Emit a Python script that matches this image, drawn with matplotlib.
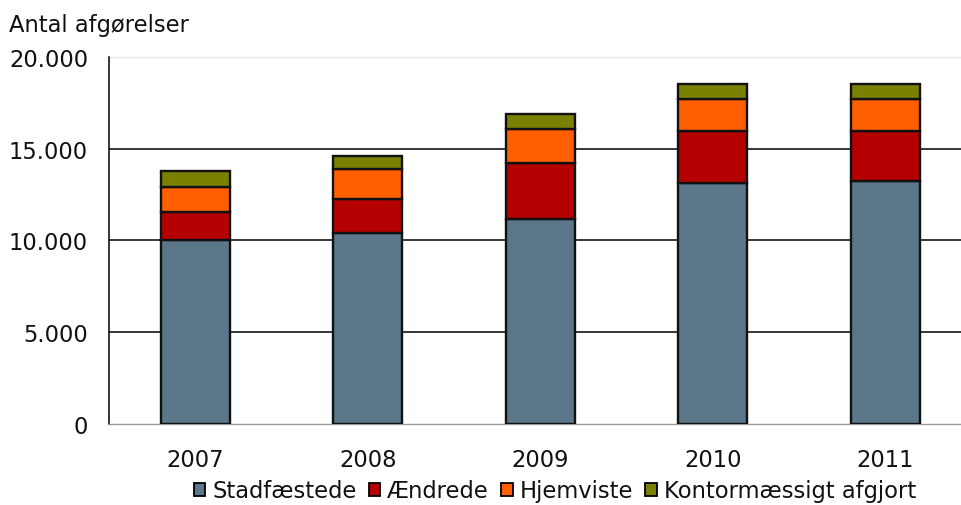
import matplotlib
matplotlib.use("Agg")
import matplotlib.pyplot as plt
from matplotlib.ticker import FuncFormatter
import numpy as np

years = ["2007", "2008", "2009", "2010", "2011"]
stadfaestede = [10010, 10430, 11190, 13150, 13240]
aendrede = [1530, 1830, 3050, 2830, 2740]
hjemviste = [1390, 1650, 1840, 1750, 1750]
kontor = [870, 680, 810, 800, 800]
series_names = ["Stadfæstede", "Ændrede", "Hjemviste", "Kontormæssigt afgjort"]
colors = ["#5B7789", "#B50000", "#FF5F00", "#7A8000"]
yticks = [0, 5000, 10000, 15000, 20000]

plt.rcParams["font.family"] = ["DejaVu Sans"]
FS = 16.3
fig = plt.figure(figsize=(9.62, 5.06), dpi=100)
ax = fig.add_axes([109/962, 1-425/506, 862.75/962, 367/506])

x = np.arange(len(years))
bottom = np.zeros(len(years))
for vals, c, name in zip([stadfaestede, aendrede, hjemviste, kontor], colors, series_names):
    ax.bar(x, vals, 0.4, bottom=bottom, color=c, edgecolor="#111111", linewidth=1.7,
           label=name, zorder=3)
    bottom += np.array(vals)

ax.set_xlim(-0.5, 4.5)
ax.set_ylim(0, 20000)
ax.set_yticks(yticks)
ax.yaxis.set_major_formatter(FuncFormatter(lambda v, p: f"{int(v):,}".replace(",", ".")))
ax.set_xticks(x)
ax.set_xticklabels(years)
ax.tick_params(axis="both", length=0, labelsize=FS, colors="#111111")
ax.tick_params(axis="y", pad=15)
ax.tick_params(axis="x", pad=17)

for v in yticks[1:-1]:
    ax.axhline(v, color="black", linewidth=1.1, zorder=1)
ax.axhline(20000, color="#e6e6e6", linewidth=1.0, zorder=1, clip_on=False)

for s in ["top", "right"]:
    ax.spines[s].set_visible(False)
ax.spines["left"].set_color("black")
ax.spines["left"].set_linewidth(1.1)
ax.spines["bottom"].set_color("#9a9a9a")
ax.spines["bottom"].set_linewidth(1.0)

fig.text(9/962, 1-32/506, "Antal afgørelser", fontsize=FS, ha="left", va="baseline",
         color="#111111")

leg_handles = [plt.Rectangle((0, 0), 1, 1, facecolor=c, edgecolor="black", linewidth=1.3) for c in colors]
fig.legend(leg_handles, series_names, loc="center", bbox_to_anchor=(555/962, 1-492/506),
           ncol=4, frameon=False, fontsize=FS, handlelength=0.5, handleheight=0.5,
           handletextpad=0.3, columnspacing=0.55, borderpad=0, borderaxespad=0,
           labelcolor="#111111")

fig.savefig("out.png", dpi=100)
